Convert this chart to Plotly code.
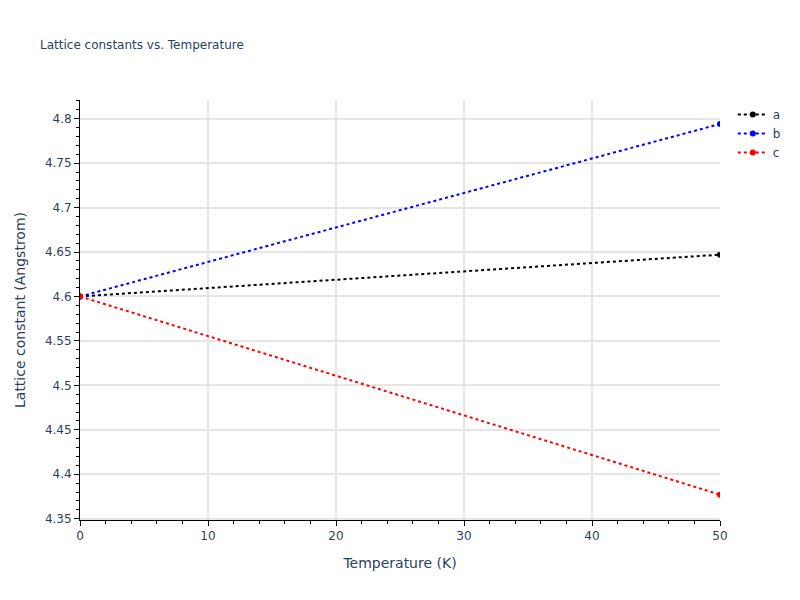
import plotly.graph_objects as go

# Temperature points (K)
temperature = [0, 50]

# Lattice constants (Angstrom)
lattice_a = [4.6, 4.647]
lattice_b = [4.6, 4.794]
lattice_c = [4.6, 4.377]

series = [
    ("a", lattice_a, "black"),
    ("b", lattice_b, "blue"),
    ("c", lattice_c, "red"),
]

fig = go.Figure()

for name, values, color in series:
    fig.add_trace(go.Scatter(
        x=temperature,
        y=values,
        mode="lines+markers",
        name=name,
        line={'color': color, 'dash': 'dot', 'width': 2},
        marker={'color': color, 'size': 6},
    ))

axis_style = dict(
    showline=True,
    linecolor="black",
    linewidth=1,
    ticks="outside",
    ticklen=5,
    tickcolor="black",
    showgrid=True,
    gridcolor="#e5e5e5",
    gridwidth=2,
    zeroline=False,
    minor=dict(ticks="outside", ticklen=3, tickcolor="black", showgrid=False),
)

# page body has an 8px margin, so pull the figure up/left by that much
fig.update_layout(
    width=800,
    height=600,
    margin=dict(l=72, r=88, t=92, b=88),
    template="plotly_white",
    font={'family': "Verdana, DejaVu Sans, sans-serif"},
    title={'text': "Lattice constants vs. Temperature", 'font': {'size': 12},
           'x': 0.04, 'xanchor': 'left', 'y': 0.938, 'yanchor': 'middle'},
    xaxis=dict(title="Temperature (K)", range=[0, 50], dtick=10, **axis_style),
    yaxis=dict(title="Lattice constant (Angstrom)", range=[4.3485, 4.821], dtick=0.05, **axis_style),
    plot_bgcolor="white",
)
fig.update_xaxes(minor_dtick=2)
fig.update_yaxes(minor_dtick=0.01)

fig.write_html("out.html")
